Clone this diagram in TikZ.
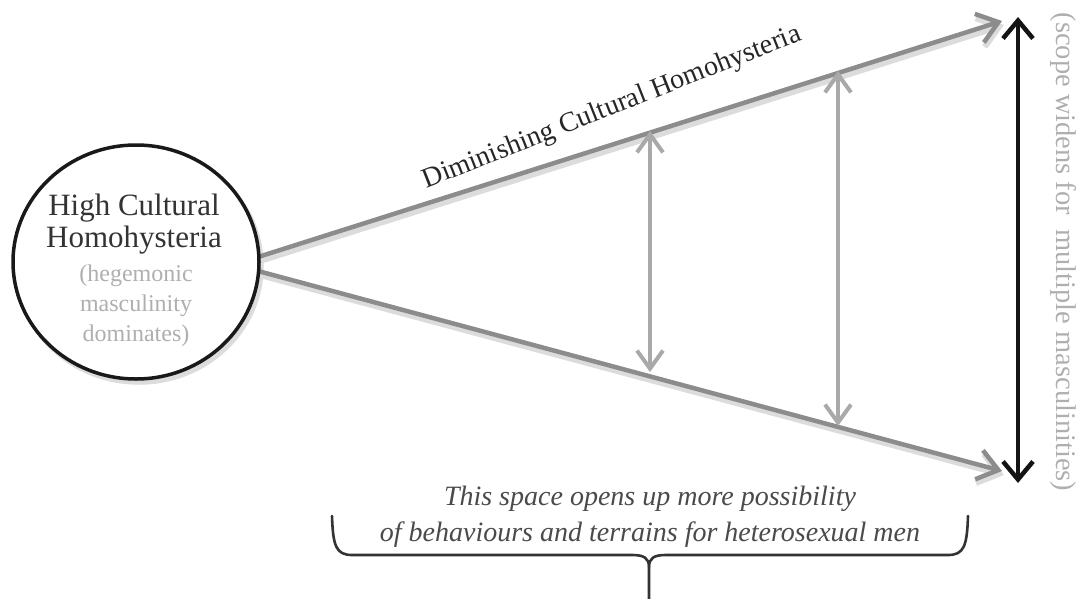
\documentclass[tikz,border=0pt]{standalone}
\usepackage{fontspec}
\setmainfont{Liberation Serif}
\usetikzlibrary{arrows.meta,shapes.geometric}
\definecolor{lineg}{HTML}{8C8C8C}
\definecolor{vertg}{HTML}{A9A9A9}
\definecolor{shad}{HTML}{DCDCDC}
\definecolor{softtxt}{HTML}{AFAFAF}
\definecolor{captxt}{HTML}{4A4A4A}
\tikzset{
  mainline/.style={draw=lineg, line width=4.5pt, -{Straight Barb[length=20pt,width=30pt,line width=4.5pt]}},
  shadline/.style={draw=shad, line width=6pt, -{Straight Barb[length=20pt,width=30pt,line width=6pt]}},
  vertarrow/.style={draw=vertg, line width=4pt, {Straight Barb[length=18pt,width=26pt,line width=4pt]}-{Straight Barb[length=18pt,width=26pt,line width=4pt]}},
  blackarrow/.style={draw=black!92, line width=4.5pt, {Straight Barb[length=18pt,width=30pt,line width=4.5pt]}-{Straight Barb[length=18pt,width=30pt,line width=4.5pt]}},
  bubble/.style={ellipse, draw=black!90, line width=3.5pt, minimum width=246pt, minimum height=234pt, fill=white},
  bracestyle/.style={draw=black!80, line width=2.6pt, line cap=round, line join=round},
}
\begin{document}
\begin{tikzpicture}[x=1pt,y=-1pt]
\useasboundingbox (0,0) rectangle (1078,599);
% coordinates
\coordinate (s1) at (258,257);
\coordinate (s2) at (258,271);
\coordinate (u) at (1002,21);
\coordinate (l) at (1002,471);
% shadows
\draw[shadline] ([shift={(2,4)}]s1) -- ([shift={(2,4)}]u);
\draw[shadline] ([shift={(2,4)}]s2) -- ([shift={(2,4)}]l);
\node[bubble, draw=shad, fill=shad] at (139,266) {};
% main lines
\draw[mainline] (s1) -- (u);
\draw[mainline] (s2) -- (l);
% circle
\node[bubble] (c) at (136,262) {};
\node[align=center, font=\fontsize{31}{32}\selectfont, text=black!80] (t1) at (134,224) {High Cultural\\Homohysteria};
\node[align=center, font=\fontsize{24}{30}\selectfont, text=softtxt] (t2) at (136,306) {(hegemonic\\masculinity\\dominates)};
% label along upper line
\node[rotate=21.5, font=\fontsize{28}{30}\selectfont, text=black!85] (dl) at (612,108) {Diminishing Cultural Homohysteria};
% vertical gray arrows
\coordinate (a1t) at (650,131);
\coordinate (a1b) at (650,372);
\coordinate (a2t) at (838,71);
\coordinate (a2b) at (838,426);
\draw[vertarrow] (a1t) -- (a1b);
\draw[vertarrow] (a2t) -- (a2b);
% black arrow
\coordinate (bt) at (1018,17);
\coordinate (bb) at (1018,483);
\draw[blackarrow] (bt) -- (bb);
% scope text
\node[rotate=-90, font=\fontsize{28.5}{30}\selectfont, text=softtxt] (sc) at (1063,252) {(scope widens for\ \ multiple masculinities)};
% caption
\node[align=center, font=\itshape\fontsize{28}{36}\selectfont, text=captxt] (cap) at (650,517) {This space opens up more possibility\\of behaviours and terrains for heterosexual men};
% brace
\coordinate (bl) at (332,516);
\coordinate (br) at (968,516);
\coordinate (bm) at (649,599);
\draw[bracestyle] (bl) .. controls (333,546) and (336,555) .. (352,555) -- (632,555) .. controls (644,555) and (649,558) .. (649,567) -- (bm);
\draw[bracestyle] (br) .. controls (967,546) and (964,555) .. (948,555) -- (666,555) .. controls (654,555) and (649,558) .. (649,567);
\end{tikzpicture}
\end{document}
